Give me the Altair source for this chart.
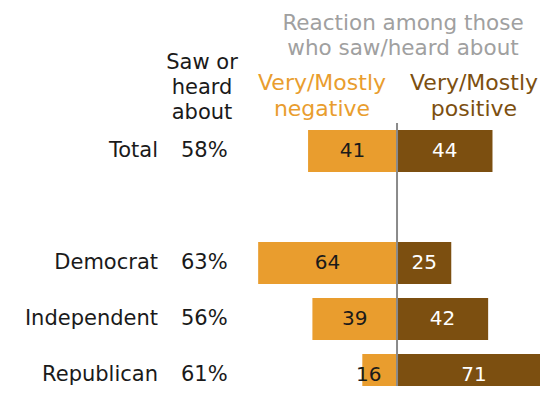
import altair as alt
import pandas as pd

# ---- data ----
groups = ["Total", "Democrat", "Independent", "Republican"]
saw_heard = [58, 63, 56, 61]
negative = [41, 64, 39, 16]
positive = [44, 25, 42, 71]
row_order = ["Total", " ", "Democrat", "Independent", "Republican"]

header_reaction = ["Reaction among those", "who saw/heard about"]
header_negative = ["Very/Mostly", "negative"]
header_positive = ["Very/Mostly", "positive"]
header_saw = ["Saw or", "heard", "about"]

df = pd.DataFrame({"group": groups, "saw": saw_heard, "neg": negative, "pos": positive})
df["saw_label"] = df["saw"].astype(str) + "%"

ORANGE = "#E99D2E"
BROWN = "#7C4F10"
GRAY = "#A0A0A0"
FONT = "DejaVu Sans"
FS = 21

xscale = alt.Scale(domain=[-179.3, 65.9], range=[0, 532], nice=False, zero=False, padding=0)
yenc = alt.Y("group:N", sort=row_order,
             scale=alt.Scale(domain=row_order, range=[115, 395], paddingInner=0.25, paddingOuter=0.125),
             axis=None)

base = alt.Chart(df).transform_calculate(
    negx="-datum.neg",
    zero="0",
    neglab="-max(datum.neg/2, 13)",
    poslab="datum.pos/2",
)

neg_bar = base.mark_bar(color=ORANGE, clip=True).encode(
    x=alt.X("negx:Q", scale=xscale, axis=None), x2="zero:Q", y=yenc)
pos_bar = base.mark_bar(color=BROWN, clip=True).encode(
    x=alt.X("pos:Q", scale=xscale, axis=None), x2="zero:Q", y=yenc)

neg_txt = base.mark_text(font=FONT, fontSize=FS - 1, color="#1a1a1a", baseline="middle").encode(
    x=alt.X("neglab:Q", scale=xscale, axis=None), y=yenc, text="neg:Q")
pos_txt = base.mark_text(font=FONT, fontSize=FS - 1, color="white", baseline="middle").encode(
    x=alt.X("poslab:Q", scale=xscale, axis=None), y=yenc, text="pos:Q")

row_lab = base.mark_text(font=FONT, fontSize=FS, color="#1a1a1a", align="right", baseline="middle").encode(
    x=alt.value(150), y=yenc, text="group:N")
pct_lab = base.mark_text(font=FONT, fontSize=FS, color="#1a1a1a", align="left", baseline="middle").encode(
    x=alt.value(173), y=yenc, text="saw_label:N")

one = pd.DataFrame({"a": [0]})
rule = alt.Chart(one).mark_rule(color="#8a8a8a", strokeWidth=2).encode(
    x=alt.X("a:Q", scale=xscale, axis=None), y=alt.value(115), y2=alt.value(394))

h1 = alt.Chart(one).mark_text(text=header_reaction, font=FONT, fontSize=21.5, color=GRAY,
                              lineHeight=25.5, baseline="middle").encode(x=alt.value(395), y=alt.value(15.5))
h2 = alt.Chart(one).mark_text(text=header_negative, font=FONT, fontSize=22, color=ORANGE,
                              lineHeight=26, baseline="middle").encode(x=alt.value(314), y=alt.value(75))
h3 = alt.Chart(one).mark_text(text=header_positive, font=FONT, fontSize=22, color=BROWN,
                              lineHeight=26, baseline="middle").encode(x=alt.value(466), y=alt.value(75))
h4 = alt.Chart(one).mark_text(text=header_saw, font=FONT, fontSize=FS, color="#1a1a1a",
                              lineHeight=25, baseline="middle").encode(x=alt.value(194), y=alt.value(55))

chart = alt.layer(neg_bar, pos_bar, rule, neg_txt, pos_txt, row_lab, pct_lab, h1, h2, h3, h4).properties(
    width=532, height=378, padding=0, autosize=alt.AutoSizeParams(type="none")
).configure_view(stroke=None)

chart.save("out.html", embed_options={"renderer": "svg", "actions": False})
